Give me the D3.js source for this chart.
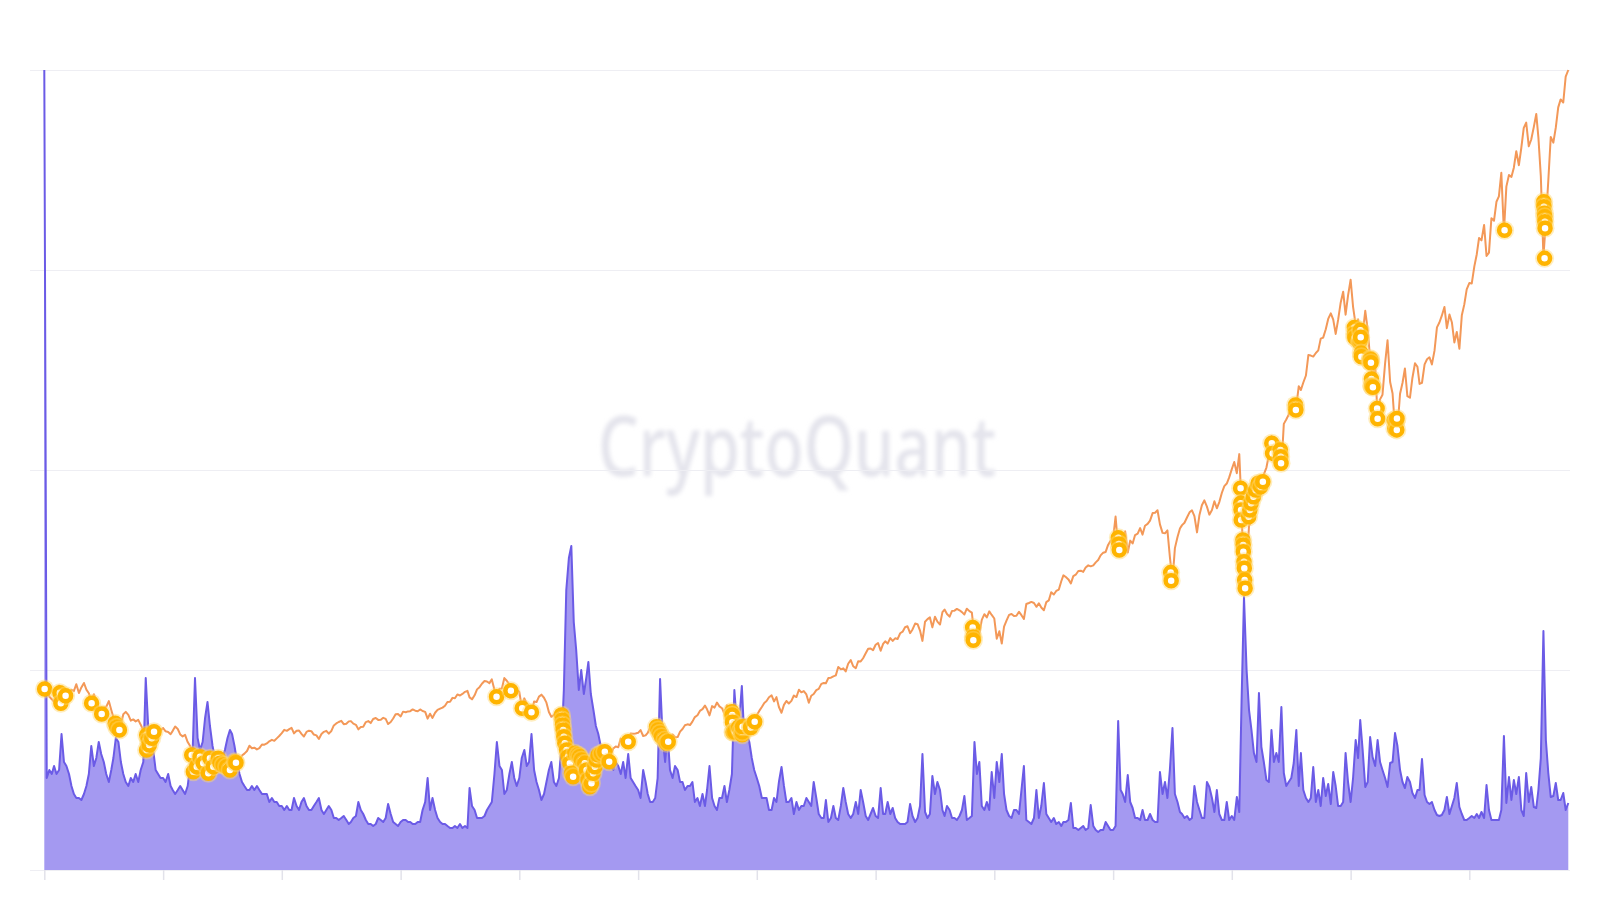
<!DOCTYPE html>
<html>
<head>
<meta charset="utf-8">
<script src="https://cdn.jsdelivr.net/npm/d3@7"></script>
<style>
  body { margin: 0; background: #ffffff; }
</style>
</head>
<body>
<div id="chart"></div>
<script>
// frame + plot box
const FRAME_WIDTH = 1600;
const FRAME_HEIGHT = 900;
const PLOT = { left: 30, right: 1570, top: 70, bottom: 870 };

// semi-monthly samples (1st and 16th), Jan 2000 .. Sep 2025
const SERIES_START_YEAR = 2000;
const SERIES_END = new Date(2025, 8, 1);

// S&P 500 (orange), one line per year
const spx = [
  1469,1465,1409,1388,1366,1458,1499,1356,1468,1452,1448,1464,1455,1510,1438,1484,1520,1466,1436,1374,1428,1382,1315,1312,
  1320,1326,1373,1301,1241,1150,1117,1183,1266,1285,1260,1214,1224,1208,1220,1181,1134,966,1040,1097,1084,1138,1139,1134,
  1154,1127,1122,1104,1131,1166,1146,1102,1086,1098,1040,1007,968,797,865,930,916,889,800,785,900,909,935,890,
  880,901,855,834,834,800,879,893,930,946,967,1010,990,994,980,990,1020,1018,1029,1046,1058,1050,1070,1089,
  1112,1139,1131,1145,1155,1110,1132,1134,1107,1085,1122,1132,1128,1101,1094,1065,1105,1123,1131,1108,1130,1175,1191,1203,
  1212,1185,1189,1208,1210,1190,1180,1143,1162,1165,1202,1210,1194,1227,1235,1220,1221,1237,1228,1186,1203,1231,1265,1267,
  1248,1287,1282,1289,1291,1305,1295,1290,1305,1292,1285,1230,1270,1236,1278,1301,1311,1320,1335,1365,1367,1399,1396,1427,
  1418,1431,1448,1456,1403,1387,1420,1468,1486,1514,1536,1532,1519,1549,1465,1406,1473,1476,1560,1538,1509,1458,1481,1468,
  1447,1325,1395,1349,1331,1276,1370,1365,1409,1425,1400,1360,1284,1245,1260,1298,1282,1213,1161,907,968,752,816,913,
  931,850,826,789,700,676,811,865,878,882,942,911,923,940,987,1004,998,1068,1030,1088,1036,1109,1108,1110,
  1115,1137,1089,1094,1115,1160,1178,1192,1187,1080,1070,1115,1022,1065,1101,1079,1080,1125,1146,1176,1184,1178,1206,1243,
  1258,1293,1307,1336,1306,1257,1332,1320,1361,1330,1315,1268,1339,1316,1287,1123,1204,1170,1099,1224,1218,1236,1244,1219,
  1258,1293,1325,1358,1374,1404,1419,1370,1405,1325,1278,1342,1374,1353,1375,1418,1406,1465,1444,1454,1427,1360,1416,1430,
  1462,1472,1513,1520,1518,1560,1563,1574,1582,1650,1631,1639,1614,1676,1706,1656,1640,1697,1695,1721,1761,1798,1800,1786,
  1831,1845,1782,1838,1859,1840,1885,1862,1883,1877,1924,1937,1973,1981,1925,1955,2003,1998,1946,1862,2018,2039,2053,1972,
  2058,2019,1995,2096,2117,2081,2059,2106,2108,2122,2111,2096,2077,2124,2104,2092,1893,1995,1920,2033,2079,2053,2102,2073,
  2044,1880,1940,1840,1978,2027,2073,2081,2065,2066,2099,2071,2040,2162,2170,2179,2170,2139,2168,2133,2111,2177,2191,2258,
  2239,2268,2279,2347,2395,2381,2362,2329,2388,2400,2430,2433,2423,2459,2476,2468,2476,2500,2519,2557,2579,2585,2642,2675,
  2695,2873,2620,2732,2713,2752,2581,2677,2654,2722,2734,2779,2726,2798,2813,2840,2901,2904,2924,2809,2740,2736,2760,2545,
  2351,2616,2706,2775,2803,2822,2867,2907,2923,2876,2744,2886,2964,3004,2953,2888,2926,2997,2940,2990,3066,3120,3141,3191,
  3258,3316,3225,3380,2954,2237,2470,2799,2830,2864,3055,3124,3115,3215,3271,3372,3526,3385,3380,3483,3270,3626,3662,3701,
  3756,3768,3774,3932,3901,3962,4019,4185,4181,4173,4202,4223,4319,4327,4395,4479,4524,4473,4357,4471,4613,4700,4513,4668,
  4797,4577,4431,4475,4306,4357,4545,4392,4155,4008,4101,3667,3825,3863,4118,4305,3966,3873,3585,3583,3871,3958,4076,3852,
  3839,3999,4119,4090,3951,3960,4109,4151,4167,4109,4221,4410,4450,4505,4576,4404,4515,4450,4288,4373,4237,4508,4595,4719,
  4770,4766,4906,5005,5137,5117,5243,4990,5018,5297,5277,5431,5475,5667,5186,5554,5648,5633,5708,5842,5728,5870,6032,6074,
  5882,5937,6040,6144,5955,5638,4982,5275,5604,5958,5912,6033,6198,6263,6238,6449,6502
];

// volatility index (purple area), same dates
const vol = [
  200,23,25,24,26,24,25,34,27,26,24,21,19,18,18,17.5,19,21,24,31,26,28,32,29,
  27,24,22,25,28,33,32,27,24,22,21,23,22,24,22,25,27,48,36,33,30,25,24,23,
  23,22,24,21,20,19,20,21,20,19,21,26,29,48,33,30,32,38,42,36,31,28,27,29,
  28,30,33,35,34,31,27,24,22,21,20,20,21,20,21,20,19,19,19,17,18,17,17,16,
  16,15,16,15,15,18,16,15,17,18,16,15,15,16,17,18,15,14,15,16,15,13,13,12.5,
  13,13.5,12.5,11.5,12,13,13.5,17,15,14,12.5,11.5,11.5,11,11.5,13,12.5,12,13,16.5,14,12,11.5,11,
  12,12.5,12.5,12,12,11.5,11.5,12,12,15,17,23,15,18,15,13,12,11.5,11.5,11,10.5,10.5,11,10.5,
  11.5,10.5,11,10.5,20.5,16,15,13,13,13,13.5,15,16,17,24,32,26,25,19,20,24,27,23,21,
  23,28,30,26,27,34,25,22,20,17.5,19,22,25,27,22,21,23,31,45,70,78,81,62,55,
  45,50,44,48,52,44,40,36,34,31,30,28,27,26,25,27,26,24,27,23,29,23,22,21,
  20,18,25,22,19,17,17,18,23,47.75,33,27,34,25,23,26,25,22,22,20,21,21,22,17,
  18,16,19,16,20,26,18,16,15,18,18,21,17,20,24,45,36,38,46,33,34,32,28,25,
  23,21,18,18,18,15,15,18,17,22,25.75,21,17,17,18,14,17,15,16,16,18,17,16,22,
  18,14,13,13,17.5,12,13,16,13,12.5,16,20.5,17,14,13,14,17,14,20,17,13.5,12.5,14,15.5,
  13.5,13,20.5,14,14,17,14,15.5,13,12,11.5,11.5,11.5,12,16.5,13.5,12,13,16,29,14.5,13,14,23.5,
  19,22,20,15,13.5,16,15,13,13,12.5,13.5,15,18.5,12.5,13,13.5,32,24,27,16,15,17,15,24.5,
  18,27,22,29,19,15,13.5,13,15,15,14,20,26,12.5,12,11.5,13,20,13,16,21.75,14,13,12,
  13,11.5,12,11,12,12,12.5,16.75,10.5,10.5,10,10.5,11,10,10.5,16.25,11,10,9.5,10,10,12,11,10,
  10,11,37.25,20,19,17,23.75,17,15.5,13,13,12.5,15,12.5,12.5,14,12.5,12,12,24.5,19,22,18,25,
  35.5,19,17,14.5,14,13,13.5,12.5,13,21,17,15,13,13,22,20.75,18,14.5,20,14,12.5,12.5,17,12.5,
  13.5,12.5,18.25,14.5,42,68.25,50,40,35,29.25,27,44.25,30.75,27,22.5,22,35,27,29.25,27,40.75,24.25,21,22,
  23,26.75,35,21,29.25,20,18,17,18,25.75,17,20,16,23,18.5,21.5,16.5,24.5,21,16,16,17,29.25,22,
  17,23,32.5,28,37.5,30,20.75,22,33.25,28.25,26,32.5,27,25,23,20.75,26.75,27,34.25,31,25,22,20.5,23.25,
  22,19.25,18,20,20,27.75,18.75,17,16.5,17,15,13.75,13.5,13.75,15,18.25,14,16,18,21.75,15.75,14,12.5,12.5,
  13,13.5,13,14,13,14.5,13,21.25,15,12.5,12.5,12.5,12.5,15,33.5,16.75,23.25,17.5,22.5,19,23.25,15,13.5,24.25,
  17,20.75,15.75,15.5,20,28,59.75,32.5,24.25,18.25,18.5,21.75,17.5,17.5,19.25,15,16.75
];

// highlighted days (yellow rings) on the S&P line
const dotDates = [
  "2000-01-03","2000-04-06","2000-04-12","2000-05-11","2000-10-18","2000-12-19",
  "2001-03-12","2001-03-22","2001-04-07","2001-09-21","2001-09-22","2001-10-02","2001-10-08","2001-10-23","2001-11-06",
  "2002-06-26","2002-07-06","2002-07-27","2002-08-16","2002-09-05","2002-10-06","2002-10-16","2002-11-06","2002-12-06",
  "2002-12-17","2003-01-06","2003-01-27","2003-02-16","2003-03-19","2003-03-25",
  "2007-08-14","2007-11-10","2008-01-19","2008-03-16",
  "2008-09-17","2008-09-21","2008-09-23","2008-09-27","2008-10-01","2008-10-07","2008-10-18","2008-10-27","2008-11-07",
  "2008-11-17","2008-11-27","2008-12-08","2008-12-28","2009-01-07","2009-01-18","2009-02-07","2009-02-18","2009-02-27",
  "2009-03-10","2009-03-20","2009-03-30","2009-04-10","2009-04-20","2009-04-30","2009-05-21","2009-06-10","2009-07-07",
  "2009-11-01",
  "2010-04-24","2010-05-04","2010-05-15","2010-05-25","2010-06-14","2010-06-25","2010-07-05",
  "2011-08-01","2011-08-02","2011-08-03","2011-08-04","2011-08-08","2011-08-10","2011-08-19","2011-09-12","2011-09-22",
  "2011-10-03","2011-10-04","2011-10-06","2011-11-23","2011-11-25","2011-12-19",
  "2015-08-21","2015-08-24","2015-08-25",
  "2018-02-02","2018-02-05","2018-02-08","2018-12-21","2018-12-24",
  "2020-02-24","2020-02-25","2020-02-27","2020-02-28","2020-03-09","2020-03-11","2020-03-12","2020-03-16","2020-03-18",
  "2020-03-20","2020-03-23","2020-04-14","2020-04-21","2020-04-29","2020-05-13","2020-05-27","2020-06-11","2020-06-26",
  "2020-07-10","2020-09-03","2020-09-08","2020-10-26","2020-10-28","2020-10-30","2021-01-27","2021-01-29",
  "2022-01-24","2022-01-25","2022-01-27","2022-02-24","2022-03-01","2022-03-02","2022-03-04","2022-03-07","2022-03-08",
  "2022-04-29","2022-05-02","2022-05-05","2022-05-06","2022-05-09","2022-05-11","2022-05-12","2022-05-18","2022-06-13",
  "2022-06-16","2022-09-26","2022-09-30","2022-10-07","2022-10-12","2022-10-13",
  "2024-08-05",
  "2025-04-03","2025-04-04","2025-04-07","2025-04-09","2025-04-10","2025-04-11","2025-04-08"
];
const dotValues = [
  1471,1441,1355,1417,1355,1268,
  1192,1160,1138,975,1097,1057,1016,1070,1124,
  935,799,840,921,867,786,908,840,908,
  867,853,840,813,880,872,
  1408,1457,1314,1282,
  1260,1219,1178,1138,1083,1030,975,921,867,
  786,758,948,935,921,894,867,813,731,
  677,705,786,840,894,935,948,961,880,
  1043,
  1165,1138,1111,1083,1057,1030,1043,
  1286,1254,1260,1200,1119,1121,1124,1162,1129,
  1099,1124,1165,1161,1158,1205,
  1971,1893,1868,
  2700,2649,2600,2417,2351,
  3102,2980,2926,2844,2682,2641,2587,2506,2452,
  2357,2290,2871,2926,2980,3034,3088,3143,3115,
  3156,3468,3386,3413,3359,3305,3779,3738,
  4410,4356,4326,4288,4306,4387,4329,4201,4171,
  4132,4155,4147,4123,3991,3935,3930,3923,3750,
  3667,3655,3586,3640,3577,3670,
  5200,
  5431,5391,5337,5310,5269,5215,4971
];

// x-axis ticks every two years
const TICK_YEARS = [2000, 2002, 2004, 2006, 2008, 2010, 2012, 2014, 2016, 2018, 2020, 2022, 2024];

// build the date list
const dates = [];
for (let y = SERIES_START_YEAR; y <= SERIES_END.getFullYear(); y++) {
  for (let m = 0; m < 12; m++) {
    for (const day of [1, 16]) {
      const t = new Date(y, m, day);
      if (t <= SERIES_END) dates.push(t);
    }
  }
}
const N = Math.min(dates.length, spx.length, vol.length);
const spxData = d3.range(N).map(i => ({ date: dates[i], v: spx[i] }));
const volData = d3.range(N).map(i => ({ date: dates[i], v: vol[i] }));
const parse = d3.timeParse("%Y-%m-%d");
const dots = dotDates.map((d, i) => ({ date: parse(d), v: dotValues[i] }));

const FRAME = d3.select("#chart")
  .append("svg")
  .attr("width", FRAME_WIDTH)
  .attr("height", FRAME_HEIGHT)
  .style("display", "block")
  .style("background", "#ffffff");

// scales
const X_SCALE = d3.scaleTime()
  .domain([new Date(2000, 0, 1), new Date(2024, 0, 1)])
  .range([44.3, 1469.3]);
const Y_SPX = d3.scaleLinear()
  .domain([0, d3.max(spx)])
  .range([PLOT.bottom, PLOT.top]);
const Y_VOL = d3.scaleLinear()
  .domain([0, d3.max(vol)])
  .range([PLOT.bottom, PLOT.top]);

// blurred watermark
const defs = FRAME.append("defs");
defs.append("filter").attr("id", "soft")
  .append("feGaussianBlur").attr("stdDeviation", 2.2);
FRAME.append("text")
  .attr("x", 797)
  .attr("y", 476)
  .attr("text-anchor", "middle")
  .attr("font-family", "'Noto Sans', 'Open Sans', sans-serif")
  .attr("font-weight", 500)
  .attr("font-size", 84)
  .attr("textLength", 398)
  .attr("lengthAdjust", "spacingAndGlyphs")
  .attr("fill", "#e4e4ec")
  .attr("filter", "url(#soft)")
  .text("CryptoQuant");

// horizontal grid lines (quarters of the axis)
const gridVals = d3.range(5).map(i => Y_SPX.domain()[1] * i / 4);
FRAME.append("g")
  .selectAll("line")
  .data(gridVals)
  .join("line")
  .attr("x1", PLOT.left)
  .attr("x2", PLOT.right)
  .attr("y1", d => Y_SPX(d) + 0.5)
  .attr("y2", d => Y_SPX(d) + 0.5)
  .attr("stroke", "#eeeef3")
  .attr("stroke-width", 1);

// x axis: tick marks only
const xAxis = FRAME.append("g")
  .attr("transform", "translate(0," + PLOT.bottom + ")")
  .call(d3.axisBottom(X_SCALE)
    .tickValues(TICK_YEARS.map(y => new Date(y, 0, 1)))
    .tickSize(10)
    .tickFormat(""));
xAxis.select(".domain").remove();
xAxis.selectAll(".tick line").attr("stroke", "#e2e2ea").attr("stroke-width", 1.5);

// purple area + line
FRAME.append("path")
  .datum(volData)
  .attr("d", d3.area()
    .x(d => X_SCALE(d.date))
    .y0(Y_VOL(0))
    .y1(d => Y_VOL(d.v)))
  .attr("fill", "#a499f1");
FRAME.append("path")
  .datum(volData)
  .attr("d", d3.line()
    .x(d => X_SCALE(d.date))
    .y(d => Y_VOL(d.v)))
  .attr("fill", "none")
  .attr("stroke", "#6b5be6")
  .attr("stroke-width", 2)
  .attr("stroke-linejoin", "round");

// orange S&P line
FRAME.append("path")
  .datum(spxData)
  .attr("d", d3.line()
    .x(d => X_SCALE(d.date))
    .y(d => Y_SPX(d.v)))
  .attr("fill", "none")
  .attr("stroke", "#f39858")
  .attr("stroke-width", 2)
  .attr("stroke-linejoin", "round");

// yellow ring markers
const dotG = FRAME.append("g")
  .selectAll("g")
  .data(dots)
  .join("g")
  .attr("transform", d => "translate(" + X_SCALE(d.date) + "," + Y_SPX(d.v) + ")");
dotG.append("circle")
  .attr("r", 9.5)
  .attr("fill", "rgba(255, 214, 110, 0.45)");
dotG.append("circle")
  .attr("r", 5.5)
  .attr("fill", "#ffffff")
  .attr("stroke", "#ffb400")
  .attr("stroke-width", 4.5);
</script>
</body>
</html>
